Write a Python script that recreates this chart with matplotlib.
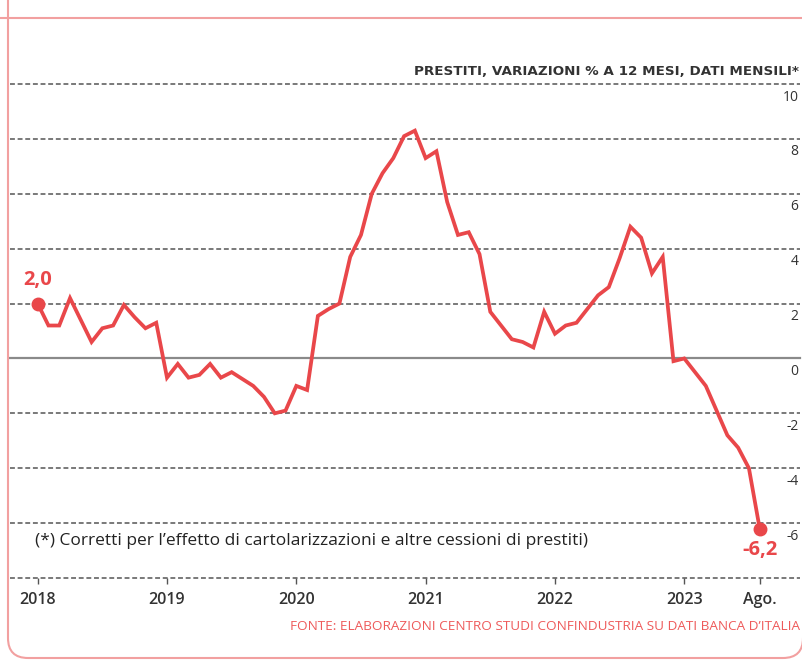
import numpy as np
import matplotlib
matplotlib.use('Agg')
import matplotlib.pyplot as plt
from matplotlib.patches import PathPatch
from matplotlib.path import Path
from matplotlib.lines import Line2D

# monthly data, Jan 2018 - Aug 2023
prestiti = [2.0, 1.2, 1.2, 2.2, 1.4, 0.6, 1.1, 1.2, 1.95, 1.5, 1.1, 1.3,
            -0.7, -0.2, -0.7, -0.6, -0.2, -0.7, -0.5, -0.75, -1.0, -1.4, -2.0, -1.9,
            -1.0, -1.15, 1.55, 1.8, 2.0, 3.7, 4.5, 6.0, 6.75, 7.3, 8.1, 8.3,
            7.3, 7.55, 5.7, 4.5, 4.6, 3.8, 1.7, 1.2, 0.7, 0.6, 0.4, 1.7,
            0.9, 1.2, 1.3, 1.8, 2.3, 2.6, 3.65, 4.8, 4.4, 3.1, 3.7, -0.1,
            0.0, -0.5, -1.0, -1.9, -2.8, -3.25, -4.0, -6.2]
tick_months = [0, 12, 24, 36, 48, 60, 67]
tick_labels = ['2018', '2019', '2020', '2021', '2022', '2023', 'Ago.']
y_grid = [10, 8, 6, 4, 2, 0, -2, -4, -6, -8]
y_labels = ['10', '8', '6', '4', '2', '0', '-2', '-4', '-6']

RED = '#E9474A'
DARK = '#333333'
FRAME = '#F2A0A0'
plt.rcParams['font.family'] = ['Open Sans', 'DejaVu Sans']

W, H = 803, 660
fig = plt.figure(figsize=(W / 100, H / 100), dpi=100)


def px(xp, yp):
    # pixel position (from top-left) -> inches for dpi_scale_trans
    return (xp / 100, (H - yp) / 100)


# frame: left side, rounded bottom corners, separator line at the top
frame_path = Path([px(8, -5), px(8, 638), px(8, 658), px(28, 658),
                   px(783, 658), px(803, 658), px(803, 638)],
                  [Path.MOVETO, Path.LINETO, Path.CURVE3, Path.CURVE3,
                   Path.LINETO, Path.CURVE3, Path.CURVE3])
fig.add_artist(PathPatch(frame_path, transform=fig.dpi_scale_trans, fill=False,
                         edgecolor=FRAME, linewidth=1.5))
fig.add_artist(Line2D([0, 1], [1 - 18 / H, 1 - 18 / H], transform=fig.transFigure,
                      color=FRAME, linewidth=1.5))

ax = fig.add_axes([10 / W, (H - 578) / H, 790 / W, 494 / H])
x = np.arange(len(prestiti))
ax.set_xlim(-2.57, 70.74)
ax.set_ylim(-8, 10)

for v in y_grid:
    if v == 0:
        ax.axhline(v, color='#8a8a8a', linewidth=1.6, zorder=1, clip_on=False)
    else:
        ax.axhline(v, color='#555555', linewidth=1.1, linestyle=(0, (3.2, 1.8)),
                   zorder=1, clip_on=False)

for v, lab in zip(y_grid, y_labels):
    ax.annotate(lab, xy=(1.0, v), xycoords=ax.get_yaxis_transform(),
                xytext=(-1, -4), textcoords='offset points', ha='right', va='top',
                fontsize=10, color=DARK)

ax.plot(x, prestiti, color=RED, linewidth=2.7, solid_joinstyle='miter', zorder=3)
ax.plot([x[0], x[-1]], [prestiti[0], prestiti[-1]], 'o', color=RED,
        markersize=9, zorder=4)
ax.annotate('2,0', xy=(x[0], prestiti[0]), xytext=(0, 10), textcoords='offset points',
            ha='center', va='bottom', fontsize=14.5, fontweight='bold', color=RED)
ax.annotate('-6,2', xy=(x[-1], prestiti[-1]), xytext=(0, -8), textcoords='offset points',
            ha='center', va='top', fontsize=14.5, fontweight='bold', color=RED)

ax.set_xticks(tick_months, tick_labels)
ax.set_yticks([])
ax.tick_params(axis='x', direction='out', length=4, width=1, color='#555555',
               pad=6, labelsize=11.5, labelcolor=DARK)
for t in ax.get_xticklabels():
    t.set_fontweight('semibold')
for s in ax.spines.values():
    s.set_visible(False)

ax.annotate('PRESTITI, VARIAZIONI % A 12 MESI, DATI MENSILI*', xy=(1.0, 1.0),
            xycoords='axes fraction', xytext=(-1, 4), textcoords='offset points',
            ha='right', va='bottom', fontsize=9.7, fontweight='bold',
            color=DARK, family='DejaVu Sans')
ax.annotate('(*) Corretti per l\u2019effetto di cartolarizzazioni e altre cessioni di prestiti)',
            xy=(x[0], -6), xytext=(-2, -13), textcoords='offset points',
            ha='left', va='center', fontsize=12.5, color='#222222')
fig.text(800 / W, 1 - 627 / H,
         'FONTE: ELABORAZIONI CENTRO STUDI CONFINDUSTRIA SU DATI BANCA D\u2019ITALIA',
         ha='right', va='center', fontsize=9.7, color='#EE5A5A')

fig.savefig('out.png', dpi=100)
plt.close(fig)
